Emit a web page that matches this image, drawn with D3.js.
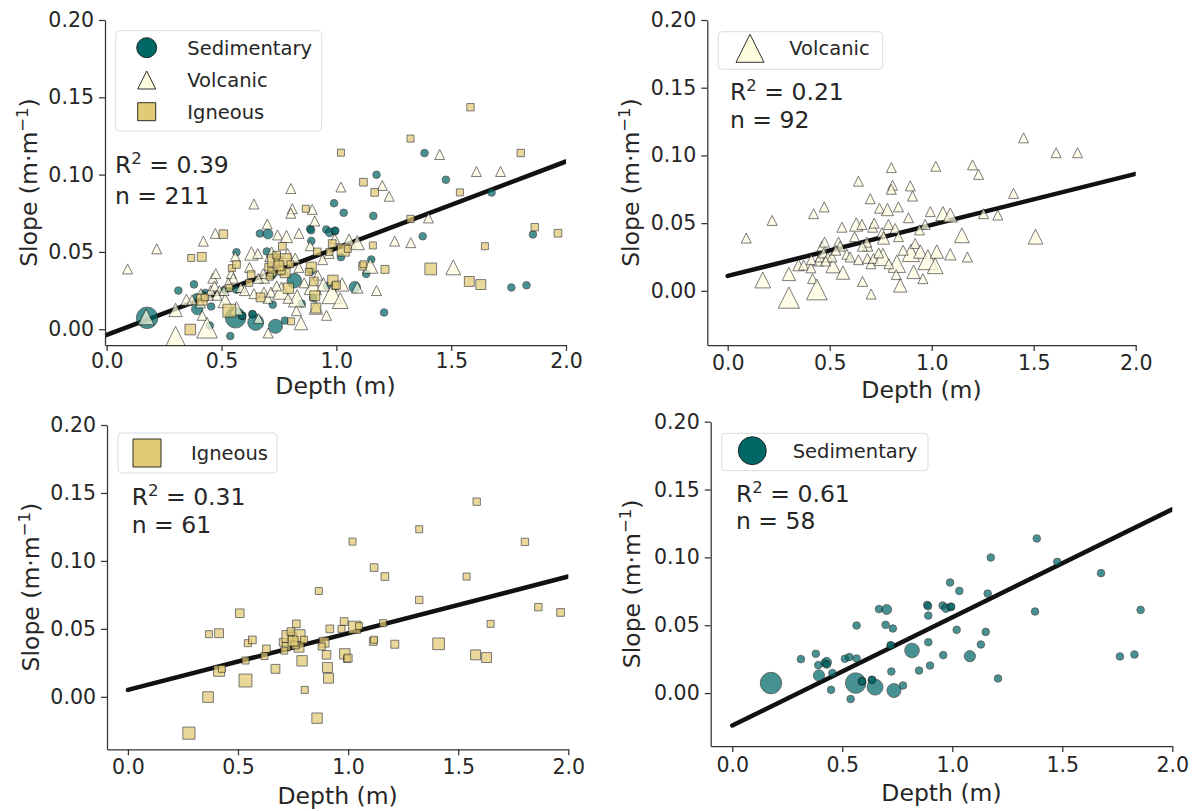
<!DOCTYPE html>
<html><head><meta charset="utf-8">
<script src="https://cdn.jsdelivr.net/npm/d3@7"></script>
<style>
body{margin:0;background:#fff}
svg{display:block}
text{font-family:"DejaVu Sans",sans-serif;fill:#262626}
</style>
</head><body>
<svg id="chart" width="1202" height="811"></svg>
<script>
// ---------- DATA: [depth (m), slope (m·m-1), marker size variable] ----------
const sedimentary = [
[0.176,0.0074,8],[0.312,0.025,1],[0.380,0.029,1],[0.391,0.0206,1],[0.429,0.0228,1.6],[0.42,0.022,1],[0.394,0.013,2.2],[0.455,0.0147,1],[0.449,0.0024,1],[0.512,0.0253,1],
[0.532,0.0265,1],[0.565,0.0255,1],[0.565,0.0498,1],[0.561,0.0074,7.3],[0.538,-0.0044,1],[0.590,0.0085,1],[0.634,0.0096,1],[0.649,0.0044,4.4],[0.735,0.0019,3.4],[0.776,0.0056,1],
[0.723,0.0159,1],[0.667,0.0619,1],[0.702,0.0616,1.7],[0.697,0.0503,1],[0.730,0.0476,1],[0.720,0.035,1],[0.817,0.0314,3.7],[0.849,0.0166,1],[0.899,0.0203,1],[0.891,0.0375,1],
[0.891,0.0571,1],[0.886,0.065,1],[0.89,0.064,1],[0.956,0.0645,1],[0.971,0.0626,1.3],[0.993,0.0633,1],[0.99,0.0815,1],[1.032,0.0753,1],[1.020,0.0466,1],[0.959,0.028,1],
[1.080,0.0272,2.2],[1.130,0.0358,1],[1.152,0.0451,1],[1.161,0.0733,1],[1.175,0.0999,1],[1.208,0.0108,1],[1.376,0.0601,1],[1.384,0.1139,1],[1.477,0.0967,1],[1.676,0.0884,1],
[1.762,0.027,1],[1.828,0.0284,1],[1.856,0.0613,1],[0.43,0.021,1],[0.59,0.0088,1],[0.636,0.0098,1],[0.995,0.0638,1],[0.72,0.0352,1]
];
const volcanic = [
[0.091,0.039,1],[0.218,0.052,1],[0.172,0.008,2.5],[0.30,0.0125,1.8],[0.30,-0.005,4.5],[0.347,0.019,1.3],[0.372,0.019,1],[0.408,0.017,1],[0.421,0.057,1],[0.473,0.062,1],
[0.416,0.009,1],[0.437,0.001,4.3],[0.444,0.022,1],[0.453,0.025,1],[0.462,0.033,1],[0.475,0.036,1],[0.470,0.028,1],[0.491,0.025,1],[0.516,0.0185,2],[0.511,0.025,1],
[0.543,0.036,1],[0.565,0.0135,1.8],[0.560,0.047,1],[0.551,0.033,1],[0.584,0.027,1],[0.630,0.049,1.8],[0.658,0.049,1],[0.641,0.081,1],[0.622,0.040,1],[0.641,0.023,1],
[0.661,0.007,1],[0.699,0.068,1],[0.685,0.024,1],[0.687,0.033,1],[0.682,0.036,1],[0.710,0.047,1],[0.718,0.050,1],[0.702,0.020,1],[0.715,0.024,1],[0.703,-0.0024,1],
[0.744,0.061,1],[0.783,0.060,1.5],[0.756,0.043,1],[0.764,0.039,1.5],[0.761,0.025,3],[0.788,0.049,1],[0.802,0.091,1],[0.808,0.078,1],[0.802,0.075,1],[0.821,0.046,1],
[0.829,0.020,3],[0.826,0.012,1],[0.846,0.004,1.8],[0.837,0.040,1],[0.837,0.062,1],[0.886,0.054,1],[0.895,0.0775,1],[0.906,0.070,1],[0.898,0.028,3],[0.919,0.035,1],
[0.911,0.014,1.8],[0.944,0.029,1.8],[0.957,0.009,1],[0.981,0.023,4],[0.993,0.0585,1],[1.02,0.092,1],[1.017,0.0185,2.5],[1.025,0.029,1.8],[1.055,0.057,2],[1.2,0.093,1],
[1.23,0.086,1],[1.091,0.056,2],[0.968,0.049,1],[1.254,0.057,1],[1.324,0.056,1],[1.401,0.072,1],[1.45,0.113,1],[1.61,0.102,1],[1.715,0.102,1],[1.148,0.041,2.2],
[1.509,0.040,2.2],[1.091,0.027,1.3],[1.175,0.025,1],[0.48,0.022,1],[0.53,0.030,1],[0.60,0.025,1],[0.66,0.033,1],[0.74,0.028,1],[0.79,0.020,1],[0.86,0.030,1],
[0.94,0.045,1],[0.41,0.023,1]
];
const igneous = [
[0.277,-0.0267,3],[0.364,-0.0002,2.3],[0.368,0.0461,1],[0.414,0.0468,1.6],[0.414,0.0191,2.4],[0.427,0.0206,1],[0.508,0.0615,1.5],[0.534,0.012,3.4],[0.545,0.0395,1],[0.565,0.0419,1.2],
[0.534,0.0267,1],[0.629,0.0353,1.2],[0.670,0.0206,1.6],[0.705,0.0402,1.2],[0.727,0.0443,3],[0.747,0.0443,1.4],[0.765,0.0537,1.2],[0.777,0.0449,3],[0.72,0.037,1.4],[0.777,0.0365,2],
[0.791,0.0265,2.2],[0.803,0.0051,1],[0.859,-0.0157,2.2],[0.867,0.0779,1],[0.891,0.0402,2],[0.902,0.0309,1.5],[0.917,0.05,1.2],[0.906,0.0216,2],[0.911,0.0137,2],[0.982,0.0554,1.2],
[0.985,0.0316,2.2],[0.995,0.0279,1],[1.02,0.1142,1],[1.03,0.0512,3],[1.0,0.0285,1.3],[1.118,0.0951,1.2],[1.167,0.0885,1.2],[1.159,0.0542,1],[1.114,0.0407,1.2],[1.118,0.042,1],
[1.212,0.0387,1.3],[1.323,0.1233,1],[1.323,0.0713,1.1],[1.411,0.039,2.8],[1.584,0.1436,1.1],[1.538,0.0885,1],[1.579,0.0309,2],[1.629,0.0289,2],[1.647,0.0537,1],[1.803,0.114,1.1],
[1.864,0.066,1.1],[1.965,0.0621,1.2],[0.74,0.048,1.2],[0.76,0.038,1.2],[0.71,0.034,1],[0.80,0.042,1],[0.88,0.037,1],[0.97,0.050,1],[0.62,0.030,1],[1.05,0.052,1],
[0.75,0.041,2]
];
const seriesNames = ["Sedimentary","Volcanic","Igneous"];
const xTicks = [0, 0.5, 1.0, 1.5, 2.0];
const yTicks = [0, 0.05, 0.10, 0.15, 0.20];
const r2Values = [0.39, 0.21, 0.31, 0.61];
const nValues = [211, 92, 61, 58];
const fitIntercepts = [-0.0037, 0.011, 0.0051, -0.0239];
const fitSlopes = [0.0561, 0.0377, 0.0417, 0.0797];
const fitDomain = [0, 2];

// ---------- STYLE / LAYOUT ----------
const dataBy = {Sedimentary: sedimentary, Volcanic: volcanic, Igneous: igneous};
const styleBy = {
  Sedimentary: {shape:"circle", fill:"#006767", base:3.8},
  Volcanic:    {shape:"triangle", fill:"#fffde0", base:10},
  Igneous:     {shape:"square", fill:"#e2ca76", base:7}
};
const panels = [
  {series:["Sedimentary","Volcanic","Igneous"], xlim:[-0.0074,2], xr:[105,566], ylim:[-0.0102,0.2], yr:[345,20],
   legend:{box:[115.7,30.7,206,100.3], mx:146.7, my:[47.7,80,111.7], tx:187.3, msz:[10,18,18]},
   stat:{x:115, y:[172.7,204]}, ylab:37, xlab:394, xpad:2},
  {series:["Volcanic"], xlim:[-0.1,2], xr:[707.3,1135.7], ylim:[-0.04,0.2], yr:[345,20],
   legend:{box:[718.3,31.7,164.4,37.6], mx:750, my:[48.3], tx:789.3, msz:[28]},
   stat:{x:730, y:[100,128.3]}, ylab:638.5, xlab:398, xpad:4},
  {series:["Igneous"], xlim:[-0.095,2], xr:[107,568.3], ylim:[-0.0386,0.2], yr:[749.3,425],
   legend:{box:[118,433,159,40], mx:147, my:[453], tx:191, msz:[28]},
   stat:{x:131.7, y:[505,533.3]}, ylab:39, xlab:804, xpad:4},
  {series:["Sedimentary"], xlim:[-0.098,2], xr:[710.7,1172.3], ylim:[-0.039,0.2], yr:[746,421.7],
   legend:{box:[721.7,433.3,206.3,37.4], mx:752.3, my:[450.7], tx:792.7, msz:[14]},
   stat:{x:736, y:[501.7,529.3]}, ylab:640, xlab:800.5, xpad:5}
];

function markerPath(shape, sz){
  // sz: circle radius, square side, triangle width
  if(shape==="circle") return d3.symbol(d3.symbolCircle, Math.PI*sz*sz)();
  if(shape==="square") return d3.symbol(d3.symbolSquare, sz*sz)();
  const h = sz/2;
  return `M0,${-h}L${h},${h}L${-h},${h}Z`;
}

const svg = d3.select("#chart");
const defs = svg.append("defs");

panels.forEach((p, i) => {
  const g = svg.append("g");
  const x = d3.scaleLinear().domain(p.xlim).range(p.xr);
  const y = d3.scaleLinear().domain(p.ylim).range(p.yr);

  defs.append("clipPath").attr("id", "clip" + i).append("rect")
    .attr("x", p.xr[0]).attr("y", p.yr[1]).attr("width", p.xr[1]-p.xr[0]).attr("height", p.yr[0]-p.yr[1]);

  // regression line + points, clipped to the axes area
  const plot = g.append("g").attr("clip-path", `url(#clip${i})`);
  const line = d3.line().x(d => x(d)).y(d => y(fitIntercepts[i] + fitSlopes[i]*d));
  plot.append("path").datum(fitDomain).attr("d", line)
    .attr("stroke", "#111").attr("stroke-width", 4.5).attr("fill", "none").attr("stroke-linecap","round");
  p.series.forEach(name => {
    const st = styleBy[name];
    const sizeScale = d3.scaleSqrt().domain([0,1]).range([0, st.base]);
    plot.append("g").selectAll("path").data(dataBy[name]).join("path")
      .attr("d", d => markerPath(st.shape, sizeScale(d[2])))
      .attr("transform", d => `translate(${x(d[0])},${y(d[1])})`)
      .attr("fill", st.fill).attr("stroke", "#1a1a1a").attr("stroke-width", 0.8)
      .attr("opacity", 0.72);
  });

  // axes
  const xa = g.append("g").attr("transform", `translate(0,${p.yr[0]})`)
    .call(d3.axisBottom(x).tickValues(xTicks).tickFormat(d3.format(".1f")).tickSize(6).tickPadding(p.xpad).tickSizeOuter(0));
  const ya = g.append("g").attr("transform", `translate(${p.xr[0]},0)`)
    .call(d3.axisLeft(y).tickValues(yTicks).tickFormat(d3.format(".2f")).tickSize(6).tickPadding(5).tickSizeOuter(0));
  [xa, ya].forEach(a => {
    a.attr("font-family", null).attr("font-size", null);
    a.selectAll(".domain, .tick line").attr("stroke", "#333").attr("stroke-width", 1.25);
    a.selectAll(".tick text").attr("font-size", "20.5px").attr("fill", "#262626");
  });

  // axis labels
  g.append("text").attr("x", (p.xr[0]+p.xr[1])/2).attr("y", p.xlab)
    .attr("text-anchor","middle").attr("font-size","23.5px").text("Depth (m)");
  const yl = g.append("text")
    .attr("transform", `translate(${p.ylab},${(p.yr[0]+p.yr[1])/2}) rotate(-90)`)
    .attr("text-anchor","middle").attr("font-size","23.5px");
  yl.append("tspan").text("Slope (m·m");
  yl.append("tspan").attr("font-size","16.5px").attr("dy","-9").text("−1");
  yl.append("tspan").attr("dy","9").text(")");

  // legend
  const L = p.legend;
  g.append("rect").attr("x", L.box[0]).attr("y", L.box[1]).attr("width", L.box[2]).attr("height", L.box[3])
    .attr("rx", 4).attr("fill", "#fff").attr("fill-opacity", 0.85).attr("stroke", "#dcdcdc").attr("stroke-width", 1);
  p.series.forEach((name, k) => {
    const st = styleBy[name];
    g.append("path").attr("d", markerPath(st.shape, L.msz[k]))
      .attr("transform", `translate(${L.mx},${L.my[k]})`)
      .attr("fill", st.fill).attr("stroke", "#1a1a1a").attr("stroke-width", 0.9);
    g.append("text").attr("x", L.tx).attr("y", L.my[k]).attr("dy", "0.36em")
      .attr("font-size", "19.5px").text(name);
  });

  // stats
  const t1 = g.append("text").attr("x", p.stat.x).attr("y", p.stat.y[0]).attr("font-size","23.5px");
  t1.append("tspan").text("R");
  t1.append("tspan").attr("font-size","16.5px").attr("dy","-9").text("2");
  t1.append("tspan").attr("dy","9").text(" = " + d3.format(".2f")(r2Values[i]));
  g.append("text").attr("x", p.stat.x).attr("y", p.stat.y[1]).attr("font-size","23.5px").text("n = " + nValues[i]);
});
</script>
</body></html>
